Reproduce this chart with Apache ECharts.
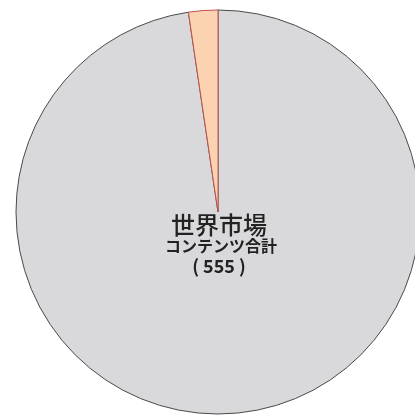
<!DOCTYPE html>
<html><head><meta charset="utf-8">
<script src="https://cdn.jsdelivr.net/npm/echarts@6/dist/echarts.min.js"></script>
<style>html,body{margin:0;padding:0;background:#fff}#c{width:415px;height:418px}</style>
</head><body><div id="c"></div>
<script>
const categories = ['その他', '日本'];
const values = [542, 13];
const colors = ['#d9d9db', '#fcd3b1'];
const borders = ['#4a4a4a', '#c0504d'];
const centerLines = ['世界市場', 'コンテンツ合計', '( 555 )'];

const chart = echarts.init(document.getElementById('c'));
chart.setOption({
  animation: false,
  backgroundColor: '#ffffff',
  series: [{
    type: 'pie',
    center: [218, 212],
    radius: [0, 202],
    startAngle: 90,
    clockwise: true,
    label: { show: false },
    labelLine: { show: false },
    data: categories.map((n, i) => ({
      name: n, value: values[i],
      itemStyle: { color: colors[i], borderColor: borders[i], borderWidth: 1 }
    }))
  }],
  graphic: {
    elements: [
      { type: 'text', x: 219, y: 225, z: 100, style: { text: centerLines[0], fontSize: 24, fontWeight: 500, fontFamily: 'Noto Sans CJK JP', fill: '#222', align: 'center', verticalAlign: 'middle' } },
      { type: 'text', x: 221, y: 246, z: 100, style: { text: centerLines[1], fontSize: 16, fontWeight: 'bold', fontFamily: 'Noto Sans CJK JP', fill: '#222', align: 'center', verticalAlign: 'middle' } },
      { type: 'text', x: 219, y: 266, z: 100, style: { text: centerLines[2], fontSize: 18, fontWeight: 'bold', fontFamily: 'Noto Sans CJK JP', fill: '#222', align: 'center', verticalAlign: 'middle' } }
    ]
  }
});
</script></body></html>
